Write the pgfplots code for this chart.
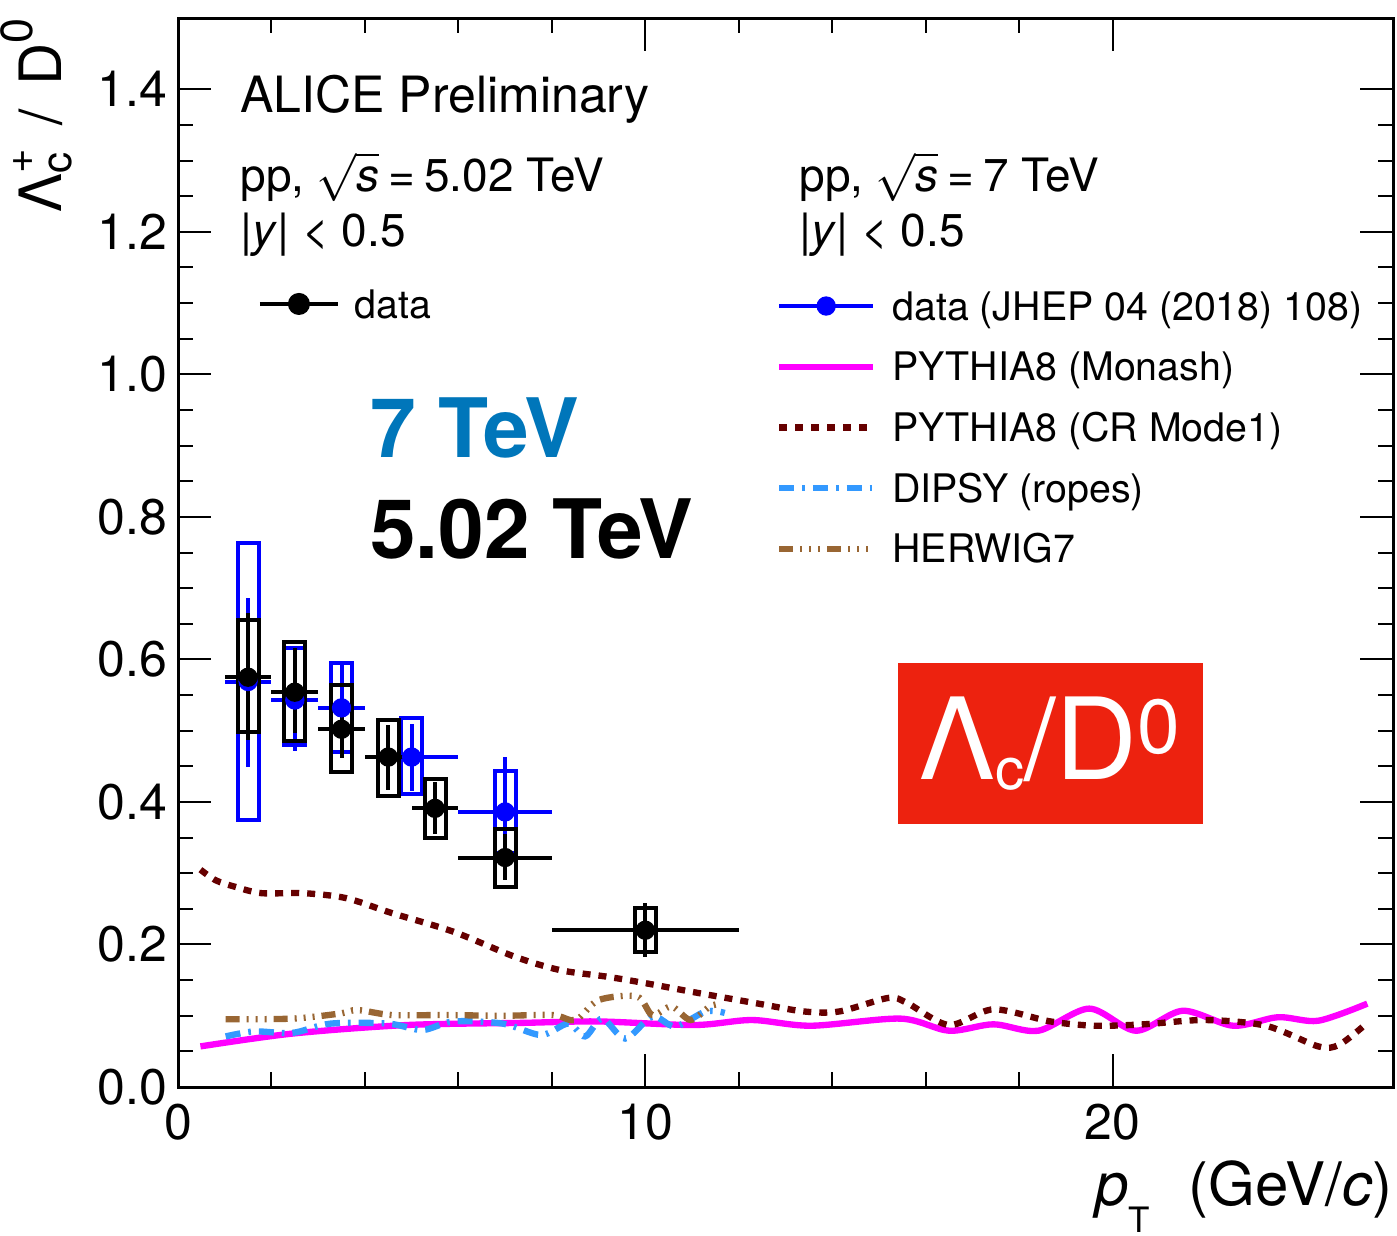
\documentclass[border=0pt]{standalone}
\usepackage{pgfplots}
\pgfplotsset{compat=1.18}
\usepackage{pgfplotstable}
\usepackage{fontspec}
\setmainfont{TeX Gyre Heros}
\definecolor{cBlue}{RGB}{0,0,255}
\definecolor{cMonash}{RGB}{255,0,255}
\definecolor{cCR}{RGB}{102,0,0}
\definecolor{cDipsy}{RGB}{51,153,255}
\definecolor{cHerwig}{RGB}{153,102,51}
\definecolor{cSeven}{RGB}{0,118,186}
\definecolor{cAlice}{RGB}{237,34,15}

% 7 TeV data: x y exm exp eym eyp
\pgfplotstableread{
x y exm exp eym eyp
1.5 0.569 0.5 0.5 0.120 0.117
2.5 0.543 0.5 0.5 0.071 0.075
3.5 0.532 0.5 0.5 0.064 0.065
5.0 0.463 1.0 1.0 0.048 0.047
7.0 0.386 1.0 1.0 0.077 0.077
}\blueData
% 5.02 TeV data
\pgfplotstableread{
x y exm exp eym eyp
1.5 0.575 0.5 0.5 0.088 0.090
2.5 0.554 0.5 0.5 0.057 0.062
3.5 0.502 0.5 0.5 0.041 0.041
4.5 0.463 0.5 0.5 0.046 0.045
5.5 0.391 0.5 0.5 0.036 0.037
7.0 0.322 1.0 1.0 0.032 0.033
10.0 0.220 2.0 2.0 0.037 0.038
}\blackData

\begin{document}
\begin{tikzpicture}
\begin{axis}[
  name=main, at={(0,0)}, anchor=south west,
  scale only axis, width=364.5pt, height=320.7pt,
  xmin=0, xmax=26, ymin=0, ymax=1.5,
  xtick={0,10,20}, minor x tick num=4,
  ytick={0,0.2,0.4,0.6,0.8,1.0,1.2,1.4}, minor y tick num=3,
  tick align=inside,
  major tick length=10pt, minor tick length=4.5pt,
  axis line style={line width=0.9pt},
  every tick/.style={black, line width=0.6pt},
  /pgf/number format/assume math mode=true,
  tick label style={font=\fontsize{15}{15}\selectfont},
  y tick label style={/pgf/number format/fixed, /pgf/number format/fixed zerofill, /pgf/number format/precision=1, inner sep=0pt, xshift=-3pt},
  x tick label style={inner sep=0pt, yshift=-4.8pt},
  unbounded coords=jump,
  legend image code/.code={\draw[#1] (0pt,0pt) -- (28.2pt,0pt);},
  legend cell align=left,
  legend style={at={(rel axis cs:0.4922,0.7485)}, anchor=north west, draw=none, fill=none,
    inner sep=0pt, outer sep=0pt, row sep=6.7pt, column sep=4.8pt,
    font=\fontsize{11.8}{12}\selectfont,
    nodes={inner sep=0pt, text height=10pt, text depth=1.5pt}},
]
% 7 TeV systematic boxes
\addplot[cBlue, line width=1.2pt, line cap=rect, forget plot] coordinates {
 (1.275,0.375) (1.725,0.375) (1.725,0.763) (1.275,0.763) (1.275,0.375) (nan,nan)
 (2.275,0.480) (2.725,0.480) (2.725,0.616) (2.275,0.616) (2.275,0.480) (nan,nan)
 (3.275,0.470) (3.725,0.470) (3.725,0.595) (3.275,0.595) (3.275,0.470) (nan,nan)
 (4.775,0.411) (5.225,0.411) (5.225,0.518) (4.775,0.518) (4.775,0.411) (nan,nan)
 (6.775,0.328) (7.225,0.328) (7.225,0.444) (6.775,0.444) (6.775,0.328)
};
% 7 TeV data
\addplot[cBlue, only marks, mark=*, mark size=2.7pt,
  legend image code/.code={\draw[cBlue, line width=1.2pt, solid] (0pt,0pt) -- (28.2pt,0pt); \fill[cBlue] (14.1pt,0pt) circle (2.7pt);},
  error bars/.cd, x dir=both, x explicit, y dir=both, y explicit, error mark=none,
  error bar style={line width=1.2pt, solid}]
  table[x=x, y=y, x error minus=exm, x error plus=exp, y error minus=eym, y error plus=eyp] {\blueData};
\addlegendentry{data (JHEP 04 (2018) 108)}
% PYTHIA8 Monash
\addplot[cMonash, line width=1.9pt, smooth, tension=0.5] coordinates {
 (0.48,0.057) (2.45,0.075) (4.9,0.087) (7.36,0.090) (9.0,0.092) (11.05,0.087) (12.28,0.094)
 (13.55,0.086) (15.46,0.096) (16.5,0.079) (17.45,0.088) (18.41,0.079) (19.5,0.110) (20.5,0.079)
 (21.5,0.107) (22.58,0.086) (23.54,0.098) (24.4,0.093) (25.45,0.117)
};
\addlegendentry{PYTHIA8 (Monash)}
% PYTHIA8 CR Mode1
\addplot[cCR, line width=1.9pt, dash pattern=on 2.4pt off 2.4pt, smooth, tension=0.5] coordinates {
 (0.48,0.305) (0.81,0.290) (1.22,0.281) (1.79,0.272) (2.69,0.272) (3.6,0.265) (4.58,0.244)
 (5.89,0.218) (7.2,0.183) (8.18,0.164) (9.16,0.155) (9.98,0.146) (11.13,0.132) (12.42,0.117)
 (13.4,0.106) (14.15,0.106) (15.2,0.125) (15.6,0.118) (16.5,0.087) (17.45,0.109) (18.67,0.092)
 (19.63,0.086) (20.67,0.088) (21.97,0.094) (23.28,0.086) (24.4,0.057) (24.84,0.059) (25.36,0.085)
};
\addlegendentry{PYTHIA8 (CR Mode1)}
% DIPSY
\addplot[cDipsy, line width=1.9pt, dash pattern=on 4.5pt off 2.4pt on 0.8pt off 2.4pt, smooth, tension=0.5] coordinates {
 (1.02,0.071) (1.63,0.078) (2.45,0.076) (3.27,0.089) (4.5,0.089) (5.23,0.080) (5.89,0.092)
 (6.95,0.089) (7.77,0.073) (8.35,0.089) (8.71,0.071) (9.08,0.096) (9.57,0.068) (10.15,0.099)
 (10.64,0.085) (11.29,0.106) (11.7,0.104)
};
\addlegendentry{DIPSY (ropes)}
% HERWIG7
\addplot[cHerwig, line width=1.9pt, dash pattern=on 4.2pt off 2.1pt on 0.6pt off 2.1pt on 0.6pt off 2.1pt on 0.6pt off 2.1pt, smooth, tension=0.5] coordinates {
 (1.02,0.095) (2.45,0.096) (3.45,0.103) (3.84,0.108) (4.58,0.101) (5.72,0.101) (6.95,0.100)
 (8.02,0.101) (8.51,0.094) (9.0,0.122) (9.82,0.127) (10.15,0.101) (10.56,0.113) (10.97,0.094)
 (11.38,0.113) (11.62,0.117)
};
\addlegendentry{HERWIG7}
% 5.02 TeV systematic boxes
\addplot[black, line width=1.2pt, line cap=rect, forget plot] coordinates {
 (1.275,0.498) (1.725,0.498) (1.725,0.655) (1.275,0.655) (1.275,0.498) (nan,nan)
 (2.275,0.486) (2.725,0.486) (2.725,0.624) (2.275,0.624) (2.275,0.486) (nan,nan)
 (3.275,0.442) (3.725,0.442) (3.725,0.564) (3.275,0.564) (3.275,0.442) (nan,nan)
 (4.275,0.409) (4.725,0.409) (4.725,0.515) (4.275,0.515) (4.275,0.409) (nan,nan)
 (5.275,0.350) (5.725,0.350) (5.725,0.432) (5.275,0.432) (5.275,0.350) (nan,nan)
 (6.775,0.281) (7.225,0.281) (7.225,0.362) (6.775,0.362) (6.775,0.281) (nan,nan)
 (9.775,0.189) (10.225,0.189) (10.225,0.251) (9.775,0.251) (9.775,0.189)
};
% 5.02 TeV data
\addplot[black, only marks, mark=*, mark size=2.7pt, forget plot,
  error bars/.cd, x dir=both, x explicit, y dir=both, y explicit, error mark=none,
  error bar style={line width=1.2pt, solid}]
  table[x=x, y=y, x error minus=exm, x error plus=exp, y error minus=eym, y error plus=eyp] {\blackData};

% annotations
\node[anchor=base west, inner sep=0pt, font=\fontsize{15}{15}\selectfont] at (axis cs:1.325,1.367) {ALICE Preliminary};
\node[anchor=base west, inner sep=0pt, font=\fontsize{13.8}{14}\selectfont] at (axis cs:1.325,1.256) {pp,\hspace{0.25em}$\sqrt{\mbox{\itshape s}}$\hspace{0.2em}=\hspace{0.2em}5.02 TeV};
\node[anchor=base west, inner sep=0pt, font=\fontsize{13.8}{14}\selectfont] at (axis cs:1.325,1.179) {|\textit{y}| < 0.5};
\node[anchor=base west, inner sep=0pt, font=\fontsize{13.8}{14}\selectfont] at (axis cs:13.29,1.256) {pp,\hspace{0.25em}$\sqrt{\mbox{\itshape s}}$\hspace{0.2em}=\hspace{0.2em}7 TeV};
\node[anchor=base west, inner sep=0pt, font=\fontsize{13.8}{14}\selectfont] at (axis cs:13.29,1.179) {|\textit{y}| < 0.5};
\node[anchor=base west, inner sep=0pt, text=cSeven, font=\fontsize{24.6}{25}\selectfont\bfseries] at (axis cs:4.1,0.883) {7 TeV};
\node[anchor=base west, inner sep=0pt, font=\fontsize{24.6}{25}\selectfont\bfseries] at (axis cs:4.1,0.742) {5.02 TeV};
\node[fill=cAlice, text=white, inner sep=0pt, minimum width=91.5pt, minimum height=48.3pt,
  font=\fontsize{34}{34}\selectfont] at (axis cs:18.66,0.482)
  {Λ\raisebox{-2.9pt}{\fontsize{17.5}{17}\selectfont c}/D\raisebox{7.8pt}{\fontsize{23}{23}\selectfont 0}};
\end{axis}

\begin{axis}[
  at={(0,0)}, anchor=south west,
  scale only axis, width=364.5pt, height=320.7pt,
  xmin=0, xmax=26, ymin=0, ymax=1.5, hide axis,
  legend cell align=left,
  legend style={at={(rel axis cs:0.0658,0.7325)}, anchor=west, draw=none, fill=none,
    inner sep=0pt, outer sep=0pt, column sep=4.5pt,
    font=\fontsize{11.8}{12}\selectfont,
    nodes={inner sep=0pt, text height=10pt, text depth=1.5pt}},
]
\addlegendimage{black, line width=1.2pt, mark=*, mark size=2.7pt,
  legend image code/.code={\draw[black, line width=1.2pt] (0pt,0pt) -- (23.4pt,0pt); \fill[black] (11.7pt,0pt) circle (2.7pt);}}
\addlegendentry{data}
\end{axis}

% axis titles
\node[rotate=90, anchor=base east, inner sep=0pt, font=\fontsize{17.5}{17.5}\selectfont]
  at ([xshift=-34.8pt, yshift=0pt]main.north west)
  {Λ\rlap{\raisebox{-3pt}{\fontsize{12.6}{12}\selectfont c}}\raisebox{8.5pt}{\fontsize{12.6}{12}\selectfont +}\hspace{0.4em}/\hspace{0.4em}D\raisebox{8.7pt}{\fontsize{13.5}{13}\selectfont 0}};
\node[anchor=base east, inner sep=0pt, font=\fontsize{18}{18}\selectfont]
  at ([yshift=-35.4pt]main.south east)
  {\textit{p}\raisebox{-8.1pt}{\fontsize{10.5}{10}\selectfont T}\hspace{11.5pt}(GeV/\textit{c})};

\pgfresetboundingbox
\path (-53.4pt,-44.4pt) rectangle (365.7pt,326.1pt);
\end{tikzpicture}
\end{document}
